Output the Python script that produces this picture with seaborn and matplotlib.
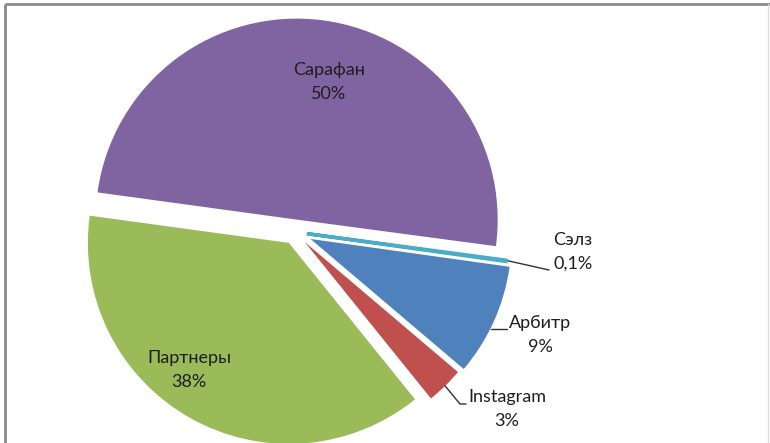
import matplotlib
matplotlib.use("Agg")
import matplotlib.pyplot as plt
import seaborn as sns
import numpy as np

sns.set_theme(style="white")
plt.rcParams['font.family'] = ['Lato', 'DejaVu Sans']

# Data
categories = ["Сарафан", "Партнеры", "Instagram", "Арбитр", "Сэлз"]
values = [50, 38, 3, 9, 0.1]
pct_labels = ["50%", "38%", "3%", "9%", "0,1%"]
colors = ["#8064A2", "#9BBB59", "#C0504D", "#4F81BD", "#4BACC6"]

W, H = 770, 443
fig = plt.figure(figsize=(W / 100, H / 100), dpi=100)
ax = fig.add_axes([0, 0, 1, 1])

cx, cy = 295, H - 232
R = 201
wedges, _ = ax.pie(values, colors=colors, startangle=-7.6, counterclock=True,
                   radius=R, center=(cx, cy), explode=[12.5, 12.5, 14, 17, 12],
                   wedgeprops=dict(linewidth=0), frame=False)
# make the tiny slice visible like the original rendering
wedges[4].set_edgecolor(colors[4])
wedges[4].set_linewidth(2.5)
ax.set_xlim(0, W)
ax.set_ylim(0, H)
ax.set_aspect("equal")
ax.axis("off")

# label positions (image coords, top-left origin): name line center
label_pos = {
    "Сарафан": (329, 70),
    "Партнеры": (189, 358),
    "Instagram": (507, 397),
    "Арбитр": (540, 323),
    "Сэлз": (573, 240),
}
fs = 13
for name, pct in zip(categories, pct_labels):
    x, y = label_pos[name]
    ax.text(x, H - y, name, ha="center", va="center", fontsize=fs, color="#1e1e1e")
    ax.text(x, H - (y + 24), pct, ha="center", va="center", fontsize=fs, color="#1e1e1e")

# leader lines from wedge edge to labels
def edge_point(w, frac=0.5):
    th = np.deg2rad(w.theta1 + (w.theta2 - w.theta1) * frac)
    return w.center[0] + w.r * np.cos(th), w.center[1] + w.r * np.sin(th)

lc = "#333333"
# Сэлз
x0, y0 = edge_point(wedges[4])
ax.plot([x0 + 2, x0 + 20, 549], [y0, y0 - 4, H - 270], color=lc, lw=1)
# Арбитр
ax.plot([491, 507], [H - 329, H - 329], color=lc, lw=1)
# Instagram
x0, y0 = edge_point(wedges[2])
ax.plot([x0, 460, 466], [y0, H - 404, H - 404], color=lc, lw=1)

# frame
ax.plot([5, W], [H - 3.5, H - 3.5], color="#8a8a8a", lw=2, solid_capstyle="butt")
ax.plot([5, 5], [0, H - 3.5], color="#8a8a8a", lw=2, solid_capstyle="butt")
ax.plot([768, 768], [0, H - 3.5], color="#dddddd", lw=1)

fig.savefig("out.png", dpi=100, facecolor="white")
